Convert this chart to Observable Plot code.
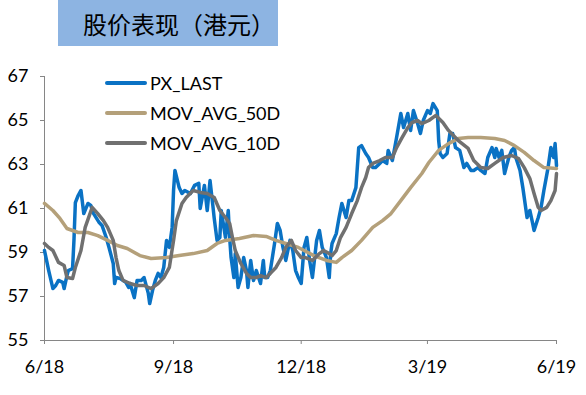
<!DOCTYPE html>
<html>
<head>
<meta charset="utf-8">
<script src="https://cdn.jsdelivr.net/npm/d3@7"></script>
<script src="https://cdn.jsdelivr.net/npm/@observablehq/plot@0.6"></script>
<style>
  html, body { margin: 0; padding: 0; background: #fff; }
  #wrap { position: relative; width: 586px; height: 395px; overflow: hidden; font-family: Lato, "Open Sans", sans-serif; }
  #title { position: absolute; left: 58px; top: 0; width: 220px; height: 46px; background: #8DB4E2;
           font-family: "Noto Sans CJK SC", sans-serif; font-size: 24px; color: #000; white-space: nowrap;
           display: flex; align-items: center; justify-content: flex-start; padding-left: 25px; box-sizing: border-box; }
  #legend { position: absolute; left: 105px; top: 68px; font-family: Lato, "Open Sans", sans-serif; font-size: 18px; color: #000; }
  .row { display: flex; align-items: center; height: 30px; }
  .sw { width: 42px; height: 4px; margin-right: 3px; border-radius: 2px; }
</style>
</head>
<body>
<div id="wrap">
  <div id="chart"></div>
  <div id="title">股价表现（港元）</div>
  <div id="legend"></div>
</div>
<script>
const seriesNames = ["PX_LAST", "MOV_AVG_50D", "MOV_AVG_10D"];
const seriesColors = ["#0A72C4", "#B4A07A", "#707070"];

const xTickDates = ["2018-06-01", "2018-09-01", "2018-12-01", "2019-03-01", "2019-06-01"];
const xTickLabels = ["6/18", "9/18", "12/18", "3/19", "6/19"];
const yTicks = [55, 57, 59, 61, 63, 65, 67];

// days after 2018-06-01
const pxDays = [0,3,6,8,10,13,14,16,17,20,21,22,24,26,28,31,33,35,39,41,44,46,49,50,51,54,58,60,61,64,66,69,71,74,75,77,79,81,83,85,87,89,91,92,93,96,98,100,104,107,110,111,114,116,118,120,121,123,125,126,129,131,132,133,135,136,138,140,142,144,145,147,149,151,154,156,157,159,161,164,166,168,170,172,175,177,179,181,183,185,187,189,191,194,196,198,201,203,204,205,208,210,212,215,217,219,222,224,226,229,231,234,236,239,241,244,245,248,251,254,256,259,261,263,266,268,270,273,275,277,280,281,282,284,287,289,291,293,296,299,301,304,306,309,311,314,316,319,321,322,324,326,328,331,333,335,336,339,341,342,344,346,348,349,352,354,356,359,361,363,364,365];
const pxValues = [59.09,58.18,57.36,57.50,57.73,57.64,57.36,57.95,58.18,58.27,59.55,61.27,61.59,61.82,60.77,61.23,61.14,60.77,60.36,60.23,59.68,59.23,58.50,57.59,57.86,57.82,57.64,57.41,57.59,56.95,57.73,57.73,57.86,57.14,56.68,57.27,57.73,58.05,57.86,58.32,59.55,59.23,60.14,61.82,62.73,61.95,61.68,61.82,61.68,62.05,62.14,61.00,62.05,60.91,62.27,61.14,60.55,59.55,59.68,60.91,59.68,60.91,59.68,58.77,57.86,58.95,57.41,57.86,58.77,58.18,57.41,58.64,57.73,58.18,57.59,58.64,57.86,57.86,58.18,59.41,60.32,60.00,59.23,58.64,59.55,59.09,58.18,57.86,57.59,59.23,59.68,58.64,57.86,59.55,60.00,59.23,58.77,57.86,58.95,59.41,59.86,60.59,61.23,60.59,61.36,61.36,61.95,63.77,63.86,63.50,63.32,62.86,62.86,63.05,63.18,63.05,63.64,63.18,64.23,65.32,64.68,65.32,64.55,65.45,64.86,64.41,65.00,65.45,65.32,65.77,65.45,64.09,63.50,63.32,63.50,64.41,64.41,63.77,63.64,62.86,63.05,62.73,62.73,62.86,62.73,62.59,63.32,63.77,63.32,63.73,63.32,63.64,62.59,63.32,63.64,63.77,63.32,62.73,61.95,61.50,60.59,60.91,60.32,60.00,60.59,61.05,61.82,62.86,63.77,63.32,63.95,62.95];

const ma50Days = [0,6,11,16,24,31,38,45,52,59,68,76,87,96,106,116,123,129,139,149,158,165,172,181,192,201,208,212,219,226,234,241,247,254,261,269,274,281,288,295,302,311,321,328,335,342,349,356,365];
const ma50Values = [61.23,60.91,60.55,60.09,59.91,59.91,59.77,59.55,59.32,59.18,58.86,58.73,58.77,58.86,58.95,59.09,59.41,59.55,59.64,59.77,59.73,59.55,59.41,59.23,58.86,58.64,58.55,58.77,59.09,59.55,60.14,60.45,60.77,61.36,61.95,62.59,63.09,63.64,63.95,64.18,64.23,64.23,64.18,64.09,63.86,63.55,63.18,62.86,62.82];

const ma10Days = [0,3,6,10,14,16,20,22,26,29,34,38,42,45,49,51,53,56,61,66,71,76,81,85,89,92,94,98,101,106,111,116,121,125,129,132,134,136,140,144,147,151,154,158,161,165,169,172,176,179,183,186,191,196,199,203,205,208,211,215,219,223,226,229,231,234,239,243,248,251,255,259,262,266,269,274,279,284,288,295,302,306,311,316,321,327,333,338,342,346,349,352,354,358,361,364,365];
const ma10Values = [59.41,59.23,59.09,58.55,58.41,57.86,57.82,58.32,59.09,60.14,61.05,60.77,60.45,60.14,59.55,58.77,58.18,57.73,57.59,57.50,57.50,57.36,57.59,57.86,58.32,59.55,60.45,61.23,61.50,61.82,61.73,61.68,61.50,60.91,60.59,60.32,59.68,59.09,58.50,58.05,57.86,57.86,57.95,57.86,58.05,58.32,58.77,59.23,59.55,59.09,58.77,58.77,58.64,58.95,59.09,58.95,58.86,59.09,59.68,60.14,60.77,61.36,61.95,62.41,62.86,63.05,63.18,63.32,63.32,63.77,64.23,64.68,64.91,65.00,64.86,65.00,65.23,64.91,64.55,64.09,63.73,63.18,62.86,62.82,63.05,63.32,63.41,63.27,62.86,62.36,61.68,61.05,60.91,61.05,61.36,61.82,62.59];

const start = new Date(Date.UTC(2018, 5, 1));
const toDate = d => d3.utcDay.offset(start, d);
const build = (days, vals, name) => days.map((d, i) => ({date: toDate(d), value: vals[i], series: name}));

const px = build(pxDays, pxValues, seriesNames[0]);
const ma50 = build(ma50Days, ma50Values, seriesNames[1]);
const ma10 = build(ma10Days, ma10Values, seriesNames[2]);

const tickDates = xTickDates.map(s => new Date(s + "T00:00:00Z"));
const axisGray = "#868686";

const chart = Plot.plot({
  width: 586,
  height: 395,
  marginLeft: 44,
  marginRight: 30,
  marginTop: 76,
  marginBottom: 55,
  style: {fontFamily: "Lato, 'Open Sans', sans-serif", fontSize: "18px", color: "#000", background: "transparent", overflow: "visible"},
  x: {type: "utc", domain: [tickDates[0], tickDates[tickDates.length - 1]]},
  y: {domain: [55, 67]},
  marks: [
    Plot.ruleX([tickDates[0]], {stroke: axisGray, strokeWidth: 1}),
    Plot.ruleY([55], {stroke: axisGray, strokeWidth: 1}),
    Plot.axisY({ticks: yTicks, tickSize: 4, tickPadding: 12, stroke: axisGray, fill: "#000", label: null, fontSize: 18}),
    Plot.axisX({ticks: tickDates, tickSize: 4, tickPadding: 16, stroke: axisGray, fill: "#000", label: null, fontSize: 18,
      tickFormat: d => xTickLabels[tickDates.findIndex(t => +t === +d)]}),
    Plot.line(px, {x: "date", y: "value", stroke: seriesColors[0], strokeWidth: 3.5, strokeLinejoin: "round"}),
    Plot.line(ma50, {x: "date", y: "value", stroke: seriesColors[1], strokeWidth: 3.5, strokeLinejoin: "round"}),
    Plot.line(ma10, {x: "date", y: "value", stroke: seriesColors[2], strokeWidth: 3.5, strokeLinejoin: "round"})
  ]
});
document.getElementById("chart").appendChild(chart);

const legend = document.getElementById("legend");
seriesNames.forEach((name, i) => {
  const row = document.createElement("div");
  row.className = "row";
  const sw = document.createElement("div");
  sw.className = "sw";
  sw.style.background = seriesColors[i];
  const label = document.createElement("span");
  label.textContent = name;
  row.appendChild(sw);
  row.appendChild(label);
  legend.appendChild(row);
});
</script>
</body>
</html>
